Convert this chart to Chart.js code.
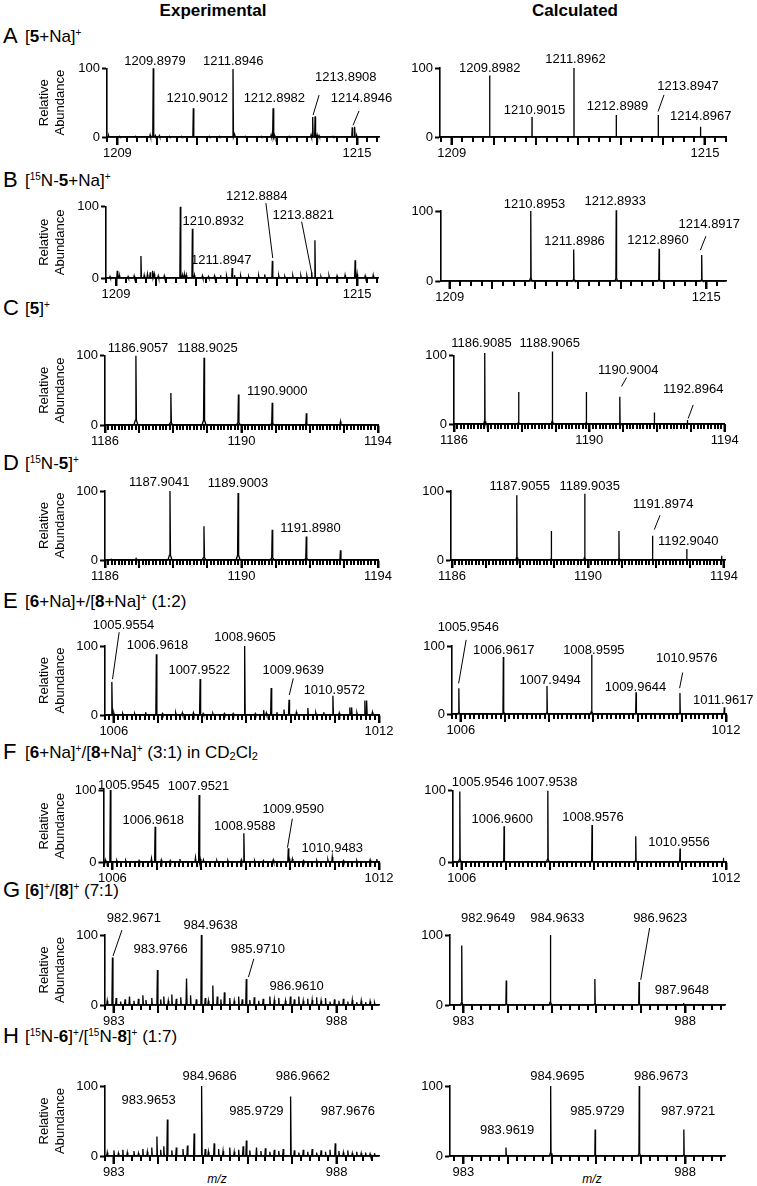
<!DOCTYPE html>
<html><head><meta charset="utf-8">
<script src="https://cdn.jsdelivr.net/npm/chart.js@4.4.1/dist/chart.umd.min.js"></script>
<style>
body{margin:0;background:#fff;}
#page{position:relative;width:757px;height:1186px;overflow:hidden;font-family:"Liberation Sans",Arial,sans-serif;color:#000;}
.hdr{position:absolute;font-weight:bold;font-size:17px;transform:translate(-50%,-50%);white-space:nowrap;line-height:1;}
.let{position:absolute;left:3px;font-size:22px;transform:translateY(-50%);line-height:1;}
.ttl{position:absolute;left:25px;font-size:17px;transform:translateY(-50%);white-space:nowrap;line-height:1;}
.ttl sup{font-size:10px;vertical-align:0.6em;line-height:0;}
.ttl sub{font-size:11px;vertical-align:-0.25em;line-height:0;}
.mz{position:absolute;font-style:italic;font-size:12px;transform:translate(-50%,-50%);line-height:1;}
canvas{position:absolute;}
</style></head>
<body><div id="page">
<div class="hdr" style="left:213px;top:10px">Experimental</div>
<div class="hdr" style="left:575px;top:10px">Calculated</div>
<div class="let" style="top:36px">A</div><div class="ttl" style="top:36px">[<b>5</b>+Na]<sup>+</sup></div>
<div class="let" style="top:180px">B</div><div class="ttl" style="top:180px">[<sup>15</sup>N-<b>5</b>+Na]<sup>+</sup></div>
<div class="let" style="top:308px">C</div><div class="ttl" style="top:308px">[<b>5</b>]<sup>+</sup></div>
<div class="let" style="top:463px">D</div><div class="ttl" style="top:463px">[<sup>15</sup>N-<b>5</b>]<sup>+</sup></div>
<div class="let" style="top:601px">E</div><div class="ttl" style="top:601px">[<b>6</b>+Na]+/[<b>8</b>+Na]<sup>+</sup> (1:2)</div>
<div class="let" style="top:752px">F</div><div class="ttl" style="top:752px">[<b>6</b>+Na]<sup>+</sup>/[<b>8</b>+Na]<sup>+</sup> (3:1) in CD<sub>2</sub>Cl<sub>2</sub></div>
<div class="let" style="top:890px">G</div><div class="ttl" style="top:890px">[<b>6</b>]<sup>+</sup>/[<b>8</b>]<sup>+</sup> (7:1)</div>
<div class="let" style="top:1036px">H</div><div class="ttl" style="top:1036px">[<sup>15</sup>N-<b>6</b>]<sup>+</sup>/[<sup>15</sup>N-<b>8</b>]<sup>+</sup> (1:7)</div>
<div class="mz" style="left:217px;top:1179px">m/z</div>
<div class="mz" style="left:592px;top:1179px">m/z</div>
</div>
<script>
const FONT = '"Liberation Sans", Arial, sans-serif';

// ---------- data: [m/z, relative abundance] ----------
const aExpPeaks = [[1209.8979,100],[1210.9012,42],[1211.8946,99],[1212.8982,42],[1213.89,29],[1213.95,30],[1214.88,14],[1214.94,15]];
const aExpNoise = [[1208.78,2],[1209.05,1],[1209.45,1],[1209.82,3],[1209.95,2],[1210.05,2],[1210.3,1],[1210.6,1],[1211.3,1],[1211.55,1],[1211.93,4],[1212.2,1],[1212.6,1],[1212.85,3],[1212.93,3],[1213.3,1],[1213.85,3],[1214.0,3],[1214.05,2],[1214.4,1],[1214.99,2]];
const aCalcPeaks = [[1209.8982,89],[1210.9015,29],[1211.8962,100],[1212.8989,32],[1213.8947,32],[1214.8967,15]];

const bExpPeaks = [[1209.03,10],[1209.62,31],[1209.91,10],[1210.6,100],[1210.9,69],[1211.89,14],[1212.89,24],[1213.87,8],[1213.95,53],[1214.95,25]];
const bExpNoise = [[1208.85,2],[1209.08,4],[1209.3,2],[1209.45,3],[1209.7,4],[1209.78,5],[1209.85,8],[1209.95,6],[1210.05,3],[1210.2,3],[1210.65,4],[1210.7,5],[1210.75,4],[1210.95,4],[1211.15,3],[1211.3,2],[1211.45,3],[1211.6,4],[1211.75,3],[1211.95,4],[1212.1,3],[1212.3,2],[1212.55,3],[1212.7,5],[1213.05,3],[1213.2,2],[1213.4,3],[1213.6,3],[1213.75,3],[1214.1,2],[1214.3,3],[1214.5,3],[1214.7,4],[1215.0,6],[1215.2,3],[1215.4,4]];
const bCalcPeaks = [[1210.8953,100],[1211.8986,45],[1212.8933,101],[1213.896,46],[1214.8917,37]];

const cExpPeaks = [[1186.9057,100],[1187.93,46],[1188.9025,97],[1189.91,44],[1190.9,32],[1191.9,17],[1192.9,5]];
const cCalcPeaks = [[1186.9085,104],[1187.91,47],[1188.9065,106],[1189.91,47],[1190.9004,40],[1191.92,17],[1192.8964,6],[1193.9,1]];

const dExpPeaks = [[1186.18,1],[1186.91,2],[1187.9041,100],[1188.9,49],[1189.9003,97],[1190.9,44],[1191.898,34],[1192.9,14]];
const dCalcPeaks = [[1187.9055,94],[1188.92,42],[1189.9035,96],[1190.91,42],[1191.8974,35],[1192.904,16],[1193.93,6]];

const eExpPeaks = [[1005.955,48],[1006.962,88],[1007.952,52],[1008.96,100],[1009.56,39],[1009.964,22],[1010.39,10],[1010.957,28],[1011.34,11],[1011.38,11],[1011.68,21],[1011.72,21]];
const eExpNoise = [[1006.0,3],[1006.2,2],[1006.47,2],[1006.72,4],[1007.1,2],[1007.4,3],[1007.55,3],[1007.8,3],[1008.02,2],[1008.24,2],[1008.5,2],[1008.7,2],[1009.2,2],[1009.39,7],[1009.45,3],[1009.69,4],[1009.85,8],[1010.13,4],[1010.57,3],[1010.75,4],[1011.1,3],[1011.5,3],[1011.85,4]];
const eCalcPeaks = [[1005.9546,38],[1006.9617,84],[1007.9494,41],[1008.9595,87],[1009.9644,32],[1010.9576,31],[1011.9617,10]];

const fExpPeaks = [[1005.9545,100],[1006.9618,49],[1007.9521,93],[1008.9588,40],[1009.959,19],[1010.9483,7]];
const fExpNoise = [[1005.84,3],[1006.1,2],[1006.3,2],[1006.6,2],[1006.88,5],[1007.1,3],[1007.3,2],[1007.52,4],[1007.87,6],[1007.98,4],[1008.05,3],[1008.35,2],[1008.6,2],[1008.9,3],[1009.2,2],[1009.4,2],[1009.62,3],[1009.98,5],[1010.05,4],[1010.3,2],[1010.6,2],[1010.85,3],[1011.2,2],[1011.5,2],[1011.8,3],[1011.95,4]];
const fCalcPeaks = [[1005.9546,99],[1006.96,50],[1007.9538,100],[1008.9576,52],[1009.95,36],[1010.9556,19],[1011.94,6]];

const gExpPeaks = [[982.9671,68],[983.9766,50],[984.63,38],[984.9638,100],[985.22,28],[985.48,18],[985.971,37],[986.961,12]];
const gExpNoise = [[982.85,6],[983.05,10],[983.15,5],[983.25,8],[983.35,12],[983.45,6],[983.55,9],[983.65,14],[983.72,7],[983.85,10],[984.05,8],[984.12,12],[984.22,6],[984.3,15],[984.4,9],[984.5,11],[984.72,14],[984.85,8],[985.05,10],[985.12,6],[985.32,12],[985.4,8],[985.6,10],[985.7,6],[985.8,12],[985.88,8],[986.05,7],[986.15,11],[986.25,6],[986.35,9],[986.5,12],[986.6,7],[986.7,10],[986.85,6],[987.05,8],[987.15,12],[987.25,6],[987.35,9],[987.45,7],[987.55,11],[987.65,6],[987.75,10],[987.85,5],[987.95,8],[988.05,6],[988.15,9],[988.25,5],[988.35,7],[988.45,4],[988.55,6],[988.65,4],[988.75,5],[988.85,3]];
const gCalcPeaks = [[982.9649,85],[983.968,35],[984.9633,100],[985.966,37],[986.9623,33],[987.9648,3]];

const hExpPeaks = [[983.9653,28],[984.2,52],[984.8,32],[984.9686,100],[985.25,18],[985.9729,22],[986.2,12],[986.9662,85],[987.9676,18]];
const hExpNoise = [[982.85,5],[983.0,8],[983.1,4],[983.2,9],[983.3,5],[983.45,7],[983.55,4],[983.65,10],[983.75,6],[983.85,12],[984.05,9],[984.12,14],[984.3,8],[984.4,12],[984.55,10],[984.65,15],[985.05,10],[985.12,6],[985.35,10],[985.45,7],[985.6,12],[985.7,6],[985.8,9],[985.9,14],[986.05,8],[986.3,7],[986.4,11],[986.5,6],[986.6,9],[986.7,7],[986.8,10],[987.05,8],[987.15,5],[987.25,9],[987.35,6],[987.45,10],[987.55,5],[987.65,8],[987.75,6],[987.85,9],[988.05,7],[988.15,5],[988.25,8],[988.35,4],[988.45,6],[988.55,4],[988.65,5],[988.75,3],[988.85,4]];
const hCalcPeaks = [[983.9619,12],[984.9695,100],[985.9729,38],[986.9673,100],[987.9721,38]];

// tick labels
const ticksAB = [1209, 1215];
const ticksCD = [1186, 1190, 1194];
const ticksEF = [1006, 1012];
const ticksGH = [983, 988];

// peak annotations (text, anchor in data coords, optional leader line)
const aExpLabels = [{t:'1209.8979',x:1209.94,y:110},{t:'1211.8946',x:1211.9,y:110},{t:'1210.9012',x:1211.0,y:56},{t:'1212.8982',x:1212.93,y:56},{t:'1213.8908',x:1214.72,y:87,lead:[1213.9,32,1214.05,61]},{t:'1214.8946',x:1215.11,y:56,lead:[1214.9,17,1215.05,38]}];
const aCalcLabels = [{t:'1209.8982',x:1209.9,y:99},{t:'1210.9015',x:1210.96,y:39},{t:'1211.8962',x:1211.93,y:113},{t:'1212.8989',x:1212.93,y:45},{t:'1213.8947',x:1214.6,y:73,lead:[1213.89,37,1214.03,61]},{t:'1214.8967',x:1214.9,y:30}];
const bExpLabels = [{t:'1210.8932',x:1211.42,y:79},{t:'1211.8947',x:1211.62,y:25},{t:'1212.8884',x:1212.5,y:114,lead:[1212.73,105,1212.9,28]},{t:'1213.8821',x:1213.66,y:88,lead:[1213.62,79,1213.87,7]}];
const bCalcLabels = [{t:'1210.8953',x:1210.98,y:110},{t:'1211.8986',x:1211.92,y:57},{t:'1212.8933',x:1212.87,y:113},{t:'1212.8960',x:1213.87,y:58},{t:'1214.8917',x:1215.07,y:81,lead:[1214.86,44,1214.99,64]}];
const cExpLabels = [{t:'1186.9057',x:1186.97,y:110},{t:'1188.9025',x:1189.0,y:110},{t:'1190.9000',x:1191.05,y:48}];
const cCalcLabels = [{t:'1186.9085',x:1186.81,y:118},{t:'1188.9065',x:1188.83,y:118},{t:'1190.9004',x:1191.15,y:79,lead:[1190.95,55,1191.1,68]},{t:'1192.8964',x:1193.07,y:51,lead:[1192.92,8,1193.07,28]}];
const dExpLabels = [{t:'1187.9041',x:1187.59,y:113},{t:'1189.9003',x:1189.9,y:111},{t:'1191.8980',x:1192.02,y:46}];
const dCalcLabels = [{t:'1187.9055',x:1187.99,y:106},{t:'1189.9035',x:1190.05,y:106},{t:'1191.8974',x:1192.21,y:80,lead:[1191.95,44,1192.12,65]},{t:'1192.9040',x:1192.95,y:26.5}];
const eExpLabels = [{t:'1005.9554',x:1006.22,y:130,lead:[1005.97,52,1006.12,120]},{t:'1006.9618',x:1006.99,y:101},{t:'1007.9522',x:1007.93,y:64},{t:'1008.9605',x:1008.97,y:112},{t:'1009.9639',x:1010.06,y:65,lead:[1009.97,29,1010.06,53]},{t:'1010.9572',x:1010.99,y:36}];
const eCalcLabels = [{t:'1005.9546',x:1006.17,y:128,lead:[1005.95,45,1006.12,109]},{t:'1006.9617',x:1006.97,y:93},{t:'1007.9494',x:1008.02,y:50},{t:'1008.9595',x:1009.01,y:93},{t:'1009.9644',x:1009.95,y:39},{t:'1010.9576',x:1011.11,y:81,lead:[1010.95,38,1011.02,61]},{t:'1011.9617',x:1011.94,y:20}];
const fExpLabels = [{t:'1005.9545',x:1006.37,y:107},{t:'1007.9521',x:1007.94,y:105},{t:'1006.9618',x:1006.92,y:58},{t:'1008.9588',x:1008.98,y:49},{t:'1009.9590',x:1010.07,y:73,lead:[1009.94,20,1010.05,60]},{t:'1010.9483',x:1010.95,y:19}];
const fCalcLabels = [{t:'1005.9546',x:1006.47,y:112},{t:'1007.9538',x:1007.93,y:112},{t:'1006.9600',x:1006.92,y:60},{t:'1008.9576',x:1008.98,y:63},{t:'1010.9556',x:1010.93,y:28}];
const gExpLabels = [{t:'982.9671',x:983.45,y:124,lead:[982.98,70,983.18,107]},{t:'983.9766',x:984.05,y:80},{t:'984.9638',x:985.17,y:113},{t:'985.9710',x:986.23,y:80,lead:[986.02,40,986.14,66]},{t:'986.9610',x:987.1,y:27}];
const gCalcLabels = [{t:'982.9649',x:983.56,y:124},{t:'984.9633',x:985.12,y:124},{t:'986.9623',x:987.44,y:124,lead:[987.0,36,987.2,110]},{t:'987.9648',x:987.93,y:21}];
const hExpLabels = [{t:'983.9653',x:983.78,y:80},{t:'984.9686',x:985.15,y:113},{t:'985.9729',x:986.2,y:63},{t:'986.9662',x:987.24,y:113},{t:'987.9676',x:988.25,y:63}];
const hCalcLabels = [{t:'983.9619',x:983.99,y:37},{t:'984.9695',x:985.12,y:113},{t:'985.9729',x:986.02,y:63},{t:'986.9673',x:987.46,y:113},{t:'987.9721',x:988.07,y:63}];

// ---------- peak profile shapes (dx, fraction of height) ----------
const SHAPE_STICK = [[-0.002,0],[0,1],[0.002,0]];
const SHAPE_NARROW = [[-0.012,0],[0,1],[0.012,0]];
const SHAPE_CALC = [[-0.03,0],[-0.008,0.04],[0,1],[0.008,0.04],[0.03,0]];
const SHAPE_BASE = [[-0.06,0],[-0.015,0.07],[0,1],[0.015,0.07],[0.06,0]];

function buildPoints(peakSets, xmin, xmax) {
  const pts = [{x:xmin,y:0},{x:xmax,y:0}];
  for (const [peaks, shape] of peakSets) {
    for (const [m, h] of peaks) for (const [dx, f] of shape) pts.push({x:m+dx, y:h*f});
  }
  pts.sort((a,b)=>a.x-b.x);
  return pts;
}

function annotPlugin(items, step){
  return {id:'annot',
    afterDraw(chart){
      // x-axis tick comb (minor + longer integer ticks), positioned by the x scale
      const c=chart.ctx, xs=chart.scales.x, yb=chart.chartArea.bottom;
      c.save(); c.fillStyle='#000';
      const i0=Math.ceil(xs.min/step-1e-6), i1=Math.floor(xs.max/step+1e-6);
      for(let i=i0;i<=i1;i++){ const v=i*step; const major=Math.abs(v-Math.round(v))<1e-6;
        const px=Math.round(xs.getPixelForValue(v));
        c.fillRect(px-1, Math.floor(yb), 2, major?8:5); }
      c.restore();
    },
    afterDatasetsDraw(chart){
      const ctx=chart.ctx, xs=chart.scales.x, ys=chart.scales.y;
      ctx.save();
      ctx.strokeStyle='#000'; ctx.lineWidth=1;
      ctx.font='13px '+FONT; ctx.fillStyle='#000';
      ctx.textAlign='center'; ctx.textBaseline='middle';
      for (const it of items){
        ctx.fillText(it.t, xs.getPixelForValue(it.x), ys.getPixelForValue(it.y));
        if (it.lead){ const [x1,y1,x2,y2]=it.lead; ctx.beginPath();
          ctx.moveTo(xs.getPixelForValue(x1), ys.getPixelForValue(y1));
          ctx.lineTo(xs.getPixelForValue(x2), ys.getPixelForValue(y2)); ctx.stroke(); }
      }
      ctx.restore();
    }};
}

function makeChart(p){
  const Hx=30;
  const L=p.left, T=Math.round(p.y100-45);
  const padTop=p.y100-T;
  const W=Math.round(p.xEnd-L+40), H=Math.round(p.y0-T+Hx);
  const cv=document.createElement('canvas');
  cv.width=W; cv.height=H; cv.style.left=L+'px'; cv.style.top=T+'px';
  document.getElementById('page').appendChild(cv);
  const tickFont={family:FONT,size:13};
  new Chart(cv,{
    type:'line',
    data:{datasets:[
      {data:buildPoints(p.sets,p.xmin,p.xmax),borderColor:'#000',borderWidth:1.3,pointRadius:0,tension:0,fill:false,clip:false}
    ]},
    options:{
      responsive:false, animation:false, devicePixelRatio:1,
      layout:{padding:{top:padTop,right:W-(p.xEnd-L),left:0,bottom:0}},
      plugins:{legend:{display:false},tooltip:{enabled:false}},
      scales:{
        x:{type:'linear',min:p.xmin,max:p.xmax,
          afterFit:s=>{s.height=Hx;},
          afterBuildTicks:s=>{s.ticks=p.xTicks.map(v=>({value:v}));},
          ticks:{font:tickFont,color:'#000',padding:1,maxRotation:0,autoSkip:false,callback:v=>String(v)},
          grid:{display:true,drawOnChartArea:false,drawTicks:true,tickLength:8,tickColor:'black',tickWidth:2},
          border:{display:true,color:'#000',width:1.6}},
        y:{min:0,max:100,
          afterFit:s=>{s.width=p.axisX-L;},
          afterBuildTicks:s=>{s.ticks=[{value:0},{value:100}];},
          ticks:{font:tickFont,color:'#000',padding:2,callback:v=>String(v)},
          grid:{display:true,drawOnChartArea:false,drawTicks:true,tickLength:5,tickColor:'black',tickWidth:2},
          border:{display:true,color:'#000',width:1.6},
          title:{display:!!p.yTitle,text:['Relative','Abundance'],color:'#000',font:{family:FONT,size:13,lineHeight:1.25},padding:{top:36,bottom:0}}}
      }
    },
    plugins:[annotPlugin(p.labels,p.step)]
  });
}

const panels = [
  {left:0,axisX:107,y100:68.3,y0:137.3,xEnd:379,xmin:1208.74,xmax:1215.55,xTicks:ticksAB,step:0.25,yTitle:true,sets:[[aExpPeaks,SHAPE_NARROW],[aExpNoise,SHAPE_NARROW]],labels:aExpLabels},
  {left:385,axisX:440,y100:68,y0:137.3,xEnd:726,xmin:1208.72,xmax:1215.5,xTicks:ticksAB,step:0.25,sets:[[aCalcPeaks,SHAPE_STICK]],labels:aCalcLabels},
  {left:0,axisX:106,y100:206.7,y0:278.3,xEnd:378,xmin:1208.75,xmax:1215.52,xTicks:ticksAB,step:0.25,yTitle:true,sets:[[bExpPeaks,SHAPE_NARROW],[bExpNoise,SHAPE_NARROW]],labels:bExpLabels},
  {left:385,axisX:440.3,y100:211,y0:281,xEnd:726,xmin:1208.78,xmax:1215.46,xTicks:ticksAB,step:0.25,sets:[[bCalcPeaks,SHAPE_CALC]],labels:bCalcLabels},
  {left:0,axisX:105,y100:355.7,y0:425,xEnd:378,xmin:1186,xmax:1194,xTicks:ticksCD,step:0.1,yTitle:true,sets:[[cExpPeaks,SHAPE_BASE]],labels:cExpLabels},
  {left:385,axisX:454,y100:355.7,y0:424,xEnd:724.7,xmin:1186,xmax:1194,xTicks:ticksCD,step:0.1,sets:[[cCalcPeaks,SHAPE_CALC]],labels:cCalcLabels},
  {left:0,axisX:105,y100:491,y0:560,xEnd:378,xmin:1186,xmax:1194,xTicks:ticksCD,step:0.1,yTitle:true,sets:[[dExpPeaks,SHAPE_BASE]],labels:dExpLabels},
  {left:385,axisX:451,y100:491,y0:560,xEnd:725,xmin:1185.97,xmax:1194.03,xTicks:ticksCD,step:0.1,sets:[[dCalcPeaks,SHAPE_CALC]],labels:dCalcLabels},
  {left:0,axisX:105,y100:646,y0:715,xEnd:379,xmin:1005.8,xmax:1012.0,xTicks:ticksEF,step:0.1,yTitle:true,sets:[[eExpPeaks,SHAPE_NARROW],[eExpNoise,SHAPE_NARROW]],labels:eExpLabels},
  {left:385,axisX:452,y100:646,y0:714.3,xEnd:726,xmin:1005.8,xmax:1012.0,xTicks:ticksEF,step:0.1,sets:[[eCalcPeaks,SHAPE_CALC]],labels:eCalcLabels},
  {left:0,axisX:103.5,y100:790,y0:861.7,xEnd:379,xmin:1005.8,xmax:1012.0,xTicks:ticksEF,step:0.1,yTitle:true,sets:[[fExpPeaks,SHAPE_NARROW],[fExpNoise,SHAPE_NARROW]],labels:fExpLabels},
  {left:385,axisX:453,y100:790.7,y0:861.7,xEnd:726,xmin:1005.8,xmax:1012.0,xTicks:ticksEF,step:0.1,sets:[[fCalcPeaks,SHAPE_CALC]],labels:fCalcLabels},
  {left:0,axisX:105,y100:935,y0:1005,xEnd:379,xmin:982.8,xmax:988.95,xTicks:ticksGH,step:0.2,yTitle:true,sets:[[gExpPeaks,SHAPE_NARROW],[gExpNoise,SHAPE_NARROW]],labels:gExpLabels},
  {left:385,axisX:450,y100:935,y0:1005,xEnd:725,xmin:982.7,xmax:988.9,xTicks:ticksGH,step:0.2,sets:[[gCalcPeaks,SHAPE_CALC]],labels:gCalcLabels},
  {left:0,axisX:105,y100:1086,y0:1156,xEnd:379,xmin:982.8,xmax:988.95,xTicks:ticksGH,step:0.2,yTitle:true,sets:[[hExpPeaks,SHAPE_NARROW],[hExpNoise,SHAPE_NARROW]],labels:hExpLabels},
  {left:385,axisX:450,y100:1086,y0:1156,xEnd:725,xmin:982.7,xmax:988.9,xTicks:ticksGH,step:0.2,sets:[[hCalcPeaks,SHAPE_CALC]],labels:hCalcLabels}
];
panels.forEach(makeChart);
</script>
</body></html>
